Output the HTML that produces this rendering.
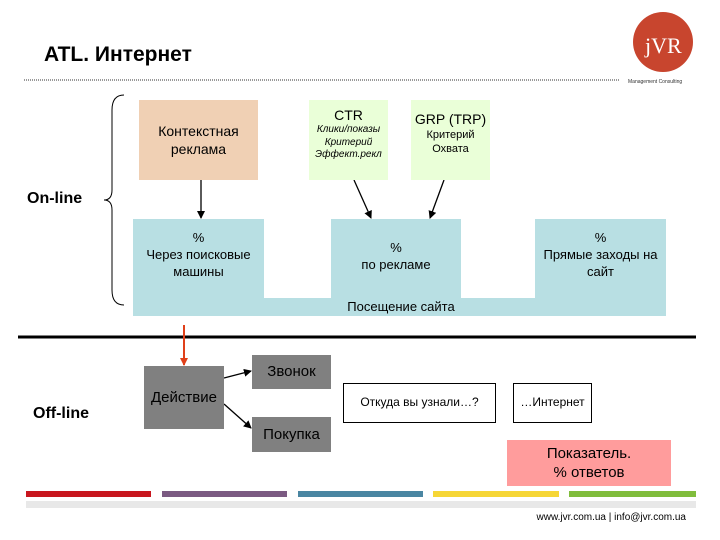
<!DOCTYPE html>
<html style="margin:0;width:720px;height:540px;overflow:hidden"><head><meta charset="utf-8"><style>
body{margin:0;width:720px;height:540px;background:#fff;position:relative;overflow:hidden;font-family:"Liberation Sans",sans-serif}
.a{position:absolute;box-sizing:border-box;display:flex;align-items:center;justify-content:center;text-align:center;line-height:1.3}
</style></head><body>
<svg width="720" height="540" style="position:absolute;left:0;top:0;display:block">
<defs><marker id="m" markerWidth="8" markerHeight="8" refX="7" refY="4" orient="auto" markerUnits="userSpaceOnUse"><path d="M0,0 L8,4 L0,8 Z" fill="#000"/></marker>
<marker id="r" markerWidth="8" markerHeight="8" refX="7" refY="4" orient="auto" markerUnits="userSpaceOnUse"><path d="M0,0 L8,4 L0,8 Z" fill="#e0401a"/></marker></defs>
<line x1="24" y1="80" x2="620" y2="80" stroke="#333" stroke-width="1" stroke-dasharray="1,1"/>
<circle cx="663" cy="42" r="30" fill="#c8452e"/>
<text x="645" y="53" font-size="22" fill="#fff" font-family="Liberation Serif">jVR</text>
<text x="628" y="83" font-size="5" fill="#333">Management Consulting</text>
<path d="M133,219 H264 V298 H331 V219 H461 V298 H535 V219 H666 V316 H133 Z" fill="#b8dfe3"/>
<path d="M124,95 Q112,95 112,110 V190 Q112,200 104,200 Q112,200 112,210 V290 Q112,305 124,305" fill="none" stroke="#000" stroke-width="1"/>
<line x1="201" y1="180" x2="201" y2="218" stroke="#000" stroke-width="1.3" marker-end="url(#m)"/>
<line x1="354" y1="180" x2="371" y2="218" stroke="#000" stroke-width="1.3" marker-end="url(#m)"/>
<line x1="444" y1="180" x2="430" y2="218" stroke="#000" stroke-width="1.3" marker-end="url(#m)"/>
<line x1="18" y1="337" x2="696" y2="337" stroke="#000" stroke-width="3"/>
<line x1="184" y1="325" x2="184" y2="365" stroke="#e0401a" stroke-width="2" marker-end="url(#r)"/>
<line x1="224" y1="378" x2="251" y2="371" stroke="#000" stroke-width="1.3" marker-end="url(#m)"/>
<line x1="224" y1="404" x2="251" y2="428" stroke="#000" stroke-width="1.3" marker-end="url(#m)"/>
<rect x="26" y="491" width="125" height="6" fill="#c8161e"/>
<rect x="162" y="491" width="125" height="6" fill="#7b5a82"/>
<rect x="298" y="491" width="125" height="6" fill="#4a86a2"/>
<rect x="433" y="491" width="126" height="6" fill="#f6d636"/>
<rect x="569" y="491" width="127" height="6" fill="#80bd3c"/>
<rect x="26" y="501" width="670" height="7" fill="#e8e8e8"/>
</svg>
<div style="position:absolute;left:44px;top:43px;font-size:21px;font-weight:bold">ATL. Интернет</div>
<div style="position:absolute;left:27px;top:190px;font-size:16px;font-weight:bold">On-line</div>
<div style="position:absolute;left:33px;top:405px;font-size:16px;font-weight:bold">Off-line</div>
<div class="a" style="left:139px;top:100px;width:119px;height:80px;background:#f0d0b4;font-size:14px">Контекстная<br>реклама</div>
<div class="a" style="left:309px;top:100px;width:79px;height:80px;background:#eaffd8;flex-direction:column;justify-content:flex-start;padding-top:6px"><div style="font-size:14px">CTR</div><div style="font-size:10px;font-style:italic;line-height:1.25">Клики/показы<br>Критерий<br>Эффект.рекл</div></div>
<div class="a" style="left:411px;top:100px;width:79px;height:80px;background:#eaffd8;flex-direction:column;justify-content:flex-start;padding-top:10px"><div style="font-size:14px">GRP (TRP)</div><div style="font-size:11px;line-height:1.3">Критерий<br>Охвата</div></div>
<div class="a" style="left:133px;top:230px;width:131px;height:58px;font-size:13px;line-height:1.3;align-items:flex-start">%<br>Через поисковые<br>машины</div>
<div class="a" style="left:331px;top:240px;width:130px;height:40px;font-size:13px;align-items:flex-start">%<br>по рекламе</div>
<div class="a" style="left:535px;top:230px;width:131px;height:58px;font-size:13px;align-items:flex-start">%<br>Прямые заходы на<br>сайт</div>
<div class="a" style="left:331px;top:299px;width:140px;height:16px;font-size:13px">Посещение сайта</div>
<div class="a" style="left:144px;top:366px;width:80px;height:63px;background:#808080;font-size:15px">Действие</div>
<div class="a" style="left:252px;top:355px;width:79px;height:34px;background:#808080;font-size:15px">Звонок</div>
<div class="a" style="left:252px;top:417px;width:79px;height:35px;background:#808080;font-size:15px">Покупка</div>
<div class="a" style="left:343px;top:383px;width:153px;height:40px;border:1px solid #000;font-size:12px">Откуда вы узнали…?</div>
<div class="a" style="left:513px;top:383px;width:79px;height:40px;border:1px solid #000;font-size:12px">…Интернет</div>
<div class="a" style="left:507px;top:440px;width:164px;height:46px;background:#ff9c9c;font-size:15px">Показатель.<br>% ответов</div>
<div style="position:absolute;right:34px;top:512px;font-size:10px;line-height:12px">www.jvr.com.ua | info@jvr.com.ua</div>
</body></html>
